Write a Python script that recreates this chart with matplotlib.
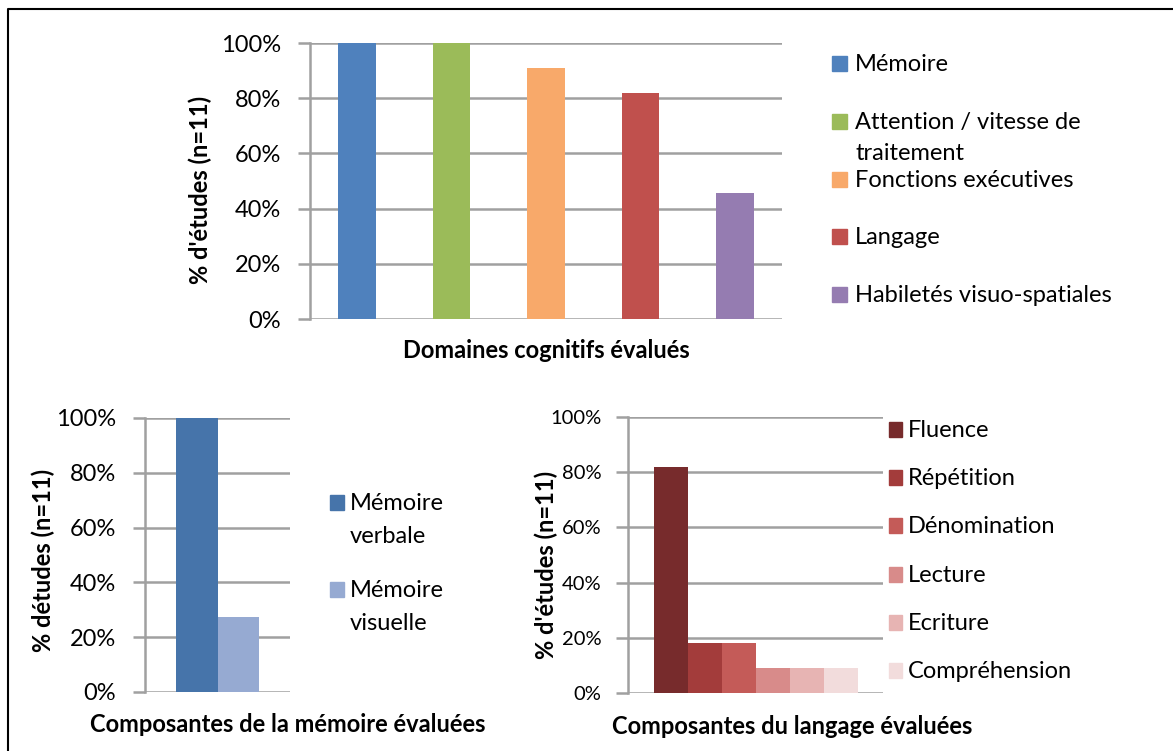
import matplotlib.pyplot as plt
from matplotlib.patches import Rectangle
from matplotlib.lines import Line2D
from matplotlib.ticker import PercentFormatter

plt.rcParams['font.family'] = ['Lato', 'DejaVu Sans']

# data (share of studies, n=11)
dom_labels = ["Mémoire", "Attention / vitesse de\ntraitement", "Fonctions exécutives",
              "Langage", "Habiletés visuo-spatiales"]
dom_values = [100, 100, 90.9, 81.8, 45.5]
dom_colors = ["#4F81BD", "#9BBB59", "#F8A96A", "#C0504D", "#957CB1"]

mem_labels = ["Mémoire\nverbale", "Mémoire\nvisuelle"]
mem_values = [100, 27.3]
mem_colors = ["#4674AA", "#96AAD2"]

lang_labels = ["Fluence", "Répétition", "Dénomination", "Lecture", "Ecriture", "Compréhension"]
lang_values = [81.8, 18.2, 18.2, 9.1, 9.1, 9.1]
lang_colors = ["#772B2C", "#A33C3B", "#C45B58", "#D88B8A", "#E7B4B3", "#F2DCDC"]

W, H = 1173, 751
fig = plt.figure(figsize=(W / 100, H / 100), dpi=100)
GRID = "#A0A0A0"
FS = 17
FSB = 17


def px(x, y):
    return x / W, 1 - y / H


def style_axes(ax, size=FS, pad=12):
    ax.set_ylim(0, 100)
    ax.set_yticks([0, 20, 40, 60, 80, 100])
    ax.yaxis.set_major_formatter(PercentFormatter(decimals=0))
    ax.grid(axis='y', color=GRID, linewidth=1.8, zorder=0)
    ax.set_axisbelow(True)
    for s in ['top', 'right', 'bottom']:
        ax.spines[s].set_visible(False)
    ax.spines['left'].set_color(GRID)
    ax.spines['left'].set_linewidth(1.8)
    ax.tick_params(axis='y', length=9, width=1.8, color=GRID, labelsize=size, pad=pad)
    ax.tick_params(axis='x', length=0, labelbottom=False)


def legend_entry(x, yb, size, col, label, gap=8, lh=32):
    # yb: baseline of the first text line, in pixels from the top
    fig.patches.append(Rectangle(px(x, yb), size / W, 15 / H, transform=fig.transFigure, color=col))
    for k, line in enumerate(label.split("\n")):
        fig.text(*px(x + size + gap, yb + k * lh), line, fontsize=FS, ha='left', va='baseline')


# top panel
ax1 = fig.add_axes([310 / W, 1 - 319 / H, 472 / W, 276 / H])
ax1.bar(range(len(dom_values)), dom_values, width=0.4, color=dom_colors, zorder=2)
ax1.set_xlim(-0.5, len(dom_values) - 0.5)
style_axes(ax1)
fig.text(*px(546, 350), "Domaines cognitifs évalués", fontsize=FSB, fontweight='bold',
         ha='center', va='center')
fig.text(*px(200, 190), "% d'études (n=11)", fontsize=FSB, fontweight='bold',
         ha='center', va='center', rotation=90)

# bottom left panel
ax2 = fig.add_axes([145 / W, 1 - 692 / H, 145 / W, 274 / H])
gw = 0.57
bw = gw / len(mem_values)
for i, (v, c) in enumerate(zip(mem_values, mem_colors)):
    ax2.bar(-gw / 2 + bw * (i + 0.5), v, width=bw, color=c, zorder=2)
ax2.set_xlim(-0.5, 0.5)
style_axes(ax2)
fig.text(*px(288, 724), "Composantes de la mémoire évaluées", fontsize=FSB, fontweight='bold',
         ha='center', va='center')
fig.text(*px(43, 560), "% détudes (n=11)", fontsize=FSB, fontweight='bold',
         ha='center', va='center', rotation=90)

# bottom right panel
ax3 = fig.add_axes([628 / W, 1 - 693 / H, 255 / W, 276 / H])
gw = 0.8
bw = gw / len(lang_values)
for i, (v, c) in enumerate(zip(lang_values, lang_colors)):
    ax3.bar(-gw / 2 + bw * (i + 0.5), v, width=bw, color=c, zorder=2)
ax3.set_xlim(-0.5, 0.5)
style_axes(ax3, size=14.5, pad=10)
fig.text(*px(792, 727), "Composantes du langage évaluées", fontsize=FSB, fontweight='bold',
         ha='center', va='center')
fig.text(*px(546, 565), "% d'études (n=11)", fontsize=FSB, fontweight='bold',
         ha='center', va='center', rotation=90)

# legends
for i, (lab, col) in enumerate(zip(dom_labels, dom_colors)):
    legend_entry(832, 71 + i * 57.8, 15, col, lab, lh=31)

for i, (lab, col) in enumerate(zip(mem_labels, mem_colors)):
    legend_entry(330, 510 + i * 87, 14, col, lab, gap=6, lh=33)

for i, (lab, col) in enumerate(zip(lang_labels, lang_colors)):
    legend_entry(889, 437 + i * 48.2, 13, col, lab, gap=6)

# outer frame (left and top edges)
fig.add_artist(Line2D([8 / W, 8 / W, 1], [0, 1 - 9 / H, 1 - 9 / H], transform=fig.transFigure,
                      color='black', linewidth=1.5))

fig.savefig("out.png", dpi=100)
